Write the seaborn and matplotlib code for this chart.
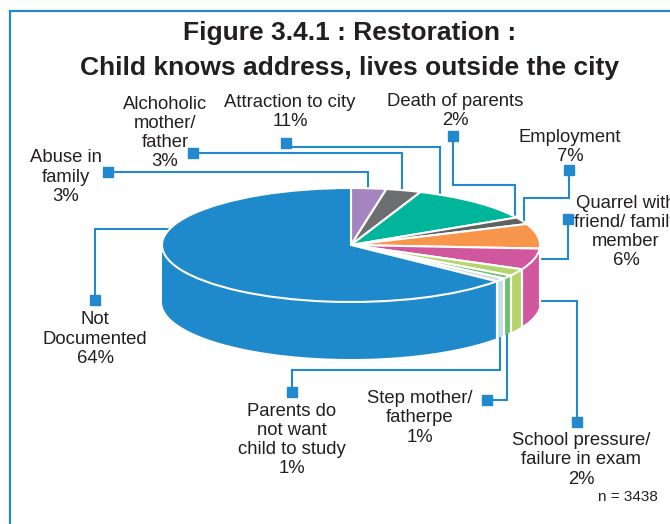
import matplotlib
matplotlib.use("Agg")
import matplotlib.pyplot as plt
import numpy as np
import seaborn as sns

# data
causes = ["Abuse in\nfamily", "Alchoholic\nmother/\nfather", "Attraction to city",
          "Death of parents", "Employment", "Quarrel with\nfriend/ family\nmember",
          "School pressure/\nfailure in exam", "Step mother/\nfatherpe",
          "Parents do\nnot want\nchild to study", "Not\nDocumented"]
shares = [3, 3, 11, 2, 7, 6, 2, 1, 1, 64]
slice_colors = ["#A585BF", "#6D6E71", "#00B59A", "#5F6064", "#F7954A", "#D0579E",
                "#B5D56A", "#6CC06A", "#C9DDE4", "#1F8ACB"]
n_total = 3438

# label layout in pixels (x right, y down)
label_pos = [(66, 177), (165, 133), (290, 112), (455, 111), (570, 147), (626, 232),
             (581, 460), (420, 418), (292, 440), (95, 339)]
marker_pos = [(108, 172), (193, 153), (286, 143), (453, 136), (569, 170), (568, 219),
              (577, 422), (487, 400), (292, 392), (95, 300)]
elbow_y = [172, 153, 147, 185, 198, None, None, 400, 370, None]
anchor_frac = [0.5, 0.5, 0.2, 0.5, 0.15, 0.5, 0.5, 0.5, 0.5, 0.685]
anchor_on_side = [False, False, False, False, False, False, True, True, True, False]

W, H = 670, 524
cx, cy = 351, 245       # pie centre
rx, ry = 189, 57        # ellipse half axes
depth = 57              # thickness of the pie
line_blue = "#2389CE"

sns.set_theme(style="white")
plt.rcParams["font.family"] = ["Liberation Sans", "DejaVu Sans"]

fig = plt.figure(figsize=(W / 100, H / 100), dpi=100)

# overlay for text, leader lines and frame (drawn below the pie)
over = fig.add_axes([0, 0, 1, 1])
over.set_xlim(0, W)
over.set_ylim(H, 0)
over.axis("off")

pie_ax = fig.add_axes([0, 0, 1, 1])
pie_ax.patch.set_alpha(0)

wedges, _ = pie_ax.pie(shares, colors=slice_colors, startangle=90, counterclock=False,
                       radius=1, wedgeprops=dict(edgecolor="white", linewidth=1.5, zorder=3))
pie_ax.set_aspect("auto")
pie_ax.set_xlim(-cx / rx, (W - cx) / rx)
pie_ax.set_ylim(-(H - cy) / ry, cy / ry)
pie_ax.axis("off")

# side wall of the front half
d = depth / ry
for w, col in zip(wedges, slice_colors):
    lo, hi = max(w.theta1, -180), min(w.theta2, 0)
    if lo >= hi:
        continue
    t = np.radians(np.linspace(lo, hi, 120))
    xs = np.concatenate([np.cos(t), np.cos(t)[::-1]])
    ys = np.concatenate([np.sin(t), np.sin(t)[::-1] - d])
    pie_ax.fill(xs, ys, color=col, lw=0, zorder=2)
    for b in (w.theta1, w.theta2):
        if -180 < b < 0:
            r = np.radians(b)
            pie_ax.plot([np.cos(r)] * 2, [np.sin(r), np.sin(r) - d], color="white",
                        lw=1.5, zorder=2.5)

# labels + leader lines
for i, w in enumerate(wedges):
    ang = np.radians(w.theta2 - anchor_frac[i] * (w.theta2 - w.theta1))
    if anchor_on_side[i]:
        ax_, ay_ = cx + rx * np.cos(ang), cy - ry * np.sin(ang) + depth / 2
    else:
        ax_, ay_ = cx + 0.96 * rx * np.cos(ang), cy - 0.96 * ry * np.sin(ang)
    mx, my = marker_pos[i]
    ey = ay_ if elbow_y[i] is None else elbow_y[i]
    over.plot([mx, mx, ax_, ax_], [my, ey, ey, ay_], color=line_blue, lw=1.5,
              solid_joinstyle="miter")
    over.plot(mx, my, marker="s", ms=7, color=line_blue, mec=line_blue)
    tx, ty = label_pos[i]
    over.text(tx, ty, f"{causes[i]}\n{shares[i]}%", ha="center", va="center",
              fontsize=13.3, linespacing=1.17, color="#231F20")

over.text(350, 33, "Figure 3.4.1 : Restoration :", ha="center", va="center",
          fontsize=19, fontweight="bold", color="#231F20")
over.text(350, 68, "Child knows address, lives outside the city", ha="center", va="center",
          fontsize=19, fontweight="bold", color="#231F20")
over.text(658, 497, f"n = {n_total}", ha="right", va="center", fontsize=11, color="#231F20")

# blue frame
over.plot([10, 10, W], [H, 11, 11], color=line_blue, lw=1.6, solid_joinstyle="miter")

fig.savefig("out.png", dpi=100)
